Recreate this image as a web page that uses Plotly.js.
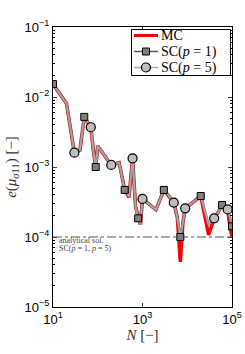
<!DOCTYPE html>
<html>
<head>
<meta charset="utf-8">
<script src="https://cdn.plot.ly/plotly-3.0.1.min.js"></script>
<style>html,body{margin:0;padding:0;background:#fff;}#chart{width:245px;height:354px;}</style>
</head>
<body>
<div id="chart"></div>
<script>
// Sample sizes N
var N = [10,20,30,40,50,60,70,80,90,100,200,300,400,500,600,700,800,900,1000,2000,3000,4000,5000,6000,7000,8000,9000,10000,20000,30000,40000,50000,60000,70000,80000,90000,100000];
// Error of SC (p = 1) and SC (p = 5) – the two curves coincide
var scP1 = [1.53e-2,8.1e-3,1.6e-3,1.75e-3,5.2e-3,4.4e-3,3.7e-3,1.7e-3,1.0e-3,2.0e-3,1.07e-3,1.15e-3,4.7e-4,3.8e-4,1.33e-3,2.7e-4,1.85e-4,1.5e-4,3.5e-4,2.45e-4,4.7e-4,3.8e-4,3.1e-4,1.9e-4,1.0e-4,1.6e-4,2.57e-4,2.7e-4,3.85e-4,1.5e-4,1.85e-4,2.3e-4,2.87e-4,2.7e-4,2.48e-4,1.9e-4,1.42e-4];
var scP5 = [1.53e-2,8.1e-3,1.6e-3,1.75e-3,5.2e-3,4.4e-3,3.7e-3,1.7e-3,1.0e-3,2.0e-3,1.07e-3,1.15e-3,4.7e-4,3.8e-4,1.33e-3,2.7e-4,1.85e-4,1.5e-4,3.5e-4,2.45e-4,4.7e-4,3.8e-4,3.1e-4,1.9e-4,1.0e-4,1.6e-4,2.57e-4,2.7e-4,3.85e-4,1.5e-4,1.85e-4,2.3e-4,2.87e-4,2.7e-4,2.48e-4,1.9e-4,1.42e-4];
// Error of Monte Carlo
var mc = [1.53e-2,8.1e-3,1.6e-3,1.75e-3,5.2e-3,4.4e-3,3.7e-3,1.7e-3,1.0e-3,2.0e-3,1.07e-3,1.15e-3,4.7e-4,3.7e-4,1.33e-3,2.7e-4,1.85e-4,1.5e-4,3.5e-4,2.45e-4,4.7e-4,3.8e-4,3.1e-4,1.9e-4,4.4e-5,1.6e-4,2.57e-4,2.7e-4,3.85e-4,1.07e-4,1.85e-4,2.3e-4,2.87e-4,2.7e-4,2.48e-4,1.4e-4,1.0e-4];
// Analytical reference level
var analyticalX = [10, 100000];
var analyticalY = [1e-4, 1e-4];
// Tick labels
var xTickVals = [10, 1000, 100000];
var xTickText = ['10<sup>1</sup>','10<sup>3</sup>','10<sup>5</sup>'];
var yTickVals = [1e-5,1e-4,1e-3,1e-2,1e-1];
var yTickText = ['10<sup>−5</sup>','10<sup>−4</sup>','10<sup>−3</sup>','10<sup>−2</sup>','10<sup>−1</sup>'];
// Legend labels
var seriesNames = ['MC', 'SC(<i>p</i> = 1)', 'SC(<i>p</i> = 5)'];

var p1x = N.filter(function(_, i){ return i % 4 === 0; });
var p1y = scP1.filter(function(_, i){ return i % 4 === 0; });
var p5x = N.filter(function(_, i){ return i % 4 === 2; });
var p5y = scP5.filter(function(_, i){ return i % 4 === 2; });

var serif = '"Liberation Serif", "DejaVu Serif", serif';
var sans = '"Liberation Sans", Arial, sans-serif';

var W = 245, H = 354, ML = 53, MR = 13, MT = 27, MB = 47;
var PW = W - ML - MR, PH = H - MT - MB;
function px(x){ return (x - ML) / PW; }
function py(y){ return (H - MB - y) / PH; }

var sqMarker = {symbol:'square', size:7, color:'#808080', line:{color:'#000', width:1}};
var ciMarker = {symbol:'circle', size:9, color:'#bdbdbd', line:{color:'#000', width:1.2}};

var traces = [
  {x: analyticalX, y: analyticalY, mode:'lines', line:{color:'#a8a8a8', width:2, dash:'dashdot'}, hoverinfo:'skip'},
  {x: N, y: mc, mode:'lines', name: seriesNames[0], line:{color:'#ff0000', width:3.5}},
  {x: N, y: scP1, mode:'lines', name: seriesNames[1], line:{color:'#6e6e6e', width:2.6}},
  {x: N, y: scP5, mode:'lines', name: seriesNames[2], line:{color:'#a6a6a6', width:1.8}},
  {x: p1x, y: p1y, mode:'markers', marker: sqMarker},
  {x: p5x, y: p5y, mode:'markers', marker: ciMarker}
];

// manual legend (box, line samples, marker samples)
var legRows = [35.5, 51.5, 67.5];
var shapes = [
  {type:'rect', xref:'paper', yref:'paper', x0:px(131.5), x1:px(230.5), y0:py(29.5), y1:py(75.5),
   line:{color:'#000', width:1}, fillcolor:'#fff', layer:'above'},
  {type:'line', xref:'paper', yref:'paper', x0:px(134), x1:px(158), y0:py(legRows[0]), y1:py(legRows[0]),
   line:{color:'#ff0000', width:3}, layer:'above'},
  {type:'line', xref:'paper', yref:'paper', x0:px(134), x1:px(158), y0:py(legRows[1]), y1:py(legRows[1]),
   line:{color:'#555', width:1.5}, layer:'above'},
  {type:'line', xref:'paper', yref:'paper', x0:px(134), x1:px(158), y0:py(legRows[2]), y1:py(legRows[2]),
   line:{color:'#aaa', width:1.5}, layer:'above'},
  {type:'rect', xref:'paper', yref:'paper', xsizemode:'pixel', ysizemode:'pixel', xanchor:px(146), yanchor:py(legRows[1]),
   x0:-3.5, x1:3.5, y0:-3.5, y1:3.5, fillcolor:'#808080', line:{color:'#000', width:1}, layer:'above'},
  {type:'circle', xref:'paper', yref:'paper', xsizemode:'pixel', ysizemode:'pixel', xanchor:px(146), yanchor:py(legRows[2]),
   x0:-4.5, x1:4.5, y0:-4.5, y1:4.5, fillcolor:'#bdbdbd', line:{color:'#000', width:1.2}, layer:'above'}
];

var annotations = [
  {xref:'paper', yref:'paper', x:0.02, y:py(240.5), xanchor:'left', yanchor:'middle', showarrow:false,
   text:'analytical sol.', font:{family:serif, size:8, color:'#444'}},
  {xref:'paper', yref:'paper', x:0.02, y:py(248.5), xanchor:'left', yanchor:'middle', showarrow:false,
   text:'SC(<i>p</i> = 1, <i>p</i> = 5)', font:{family:serif, size:8, color:'#444'}}
];
legRows.forEach(function(r, i){
  annotations.push({xref:'paper', yref:'paper', x:px(159), y:py(r), xanchor:'left', yanchor:'middle', showarrow:false,
    text: seriesNames[i], font:{family:serif, size:14, color:'#000'}});
});

var layout = {
  width:W, height:H,
  margin:{l:ML, r:MR, t:MT, b:MB},
  paper_bgcolor:'#fff', plot_bgcolor:'#fff',
  showlegend:false,
  xaxis:{type:'log', range:[1,5], tickvals:xTickVals, ticktext:xTickText, ticks:'inside', ticklen:4,
         showline:true, linecolor:'#000', linewidth:1, mirror:'ticks', showgrid:false, zeroline:false,
         tickfont:{family:sans, size:13, color:'#000'},
         title:{text:'<i>N</i> [−]', font:{family:serif, size:15, color:'#333'}, standoff:2}},
  yaxis:{type:'log', range:[-5,-1], tickvals:yTickVals, ticktext:yTickText, ticks:'inside', ticklen:4,
         showline:true, linecolor:'#000', linewidth:1, mirror:'ticks', showgrid:false, zeroline:false,
         minor:{ticks:'inside', ticklen:2, dtick:'D1', tickcolor:'#000', showgrid:false},
         tickfont:{family:sans, size:13, color:'#000'},
         title:{text:'<i>e</i>(<i>μ</i><sub><i>σ</i>11</sub>) [−]', font:{family:serif, size:15, color:'#333'}, standoff:4}},
  shapes: shapes,
  annotations: annotations
};

Plotly.newPlot('chart', traces, layout, {staticPlot:true, displayModeBar:false});
</script>
</body>
</html>
